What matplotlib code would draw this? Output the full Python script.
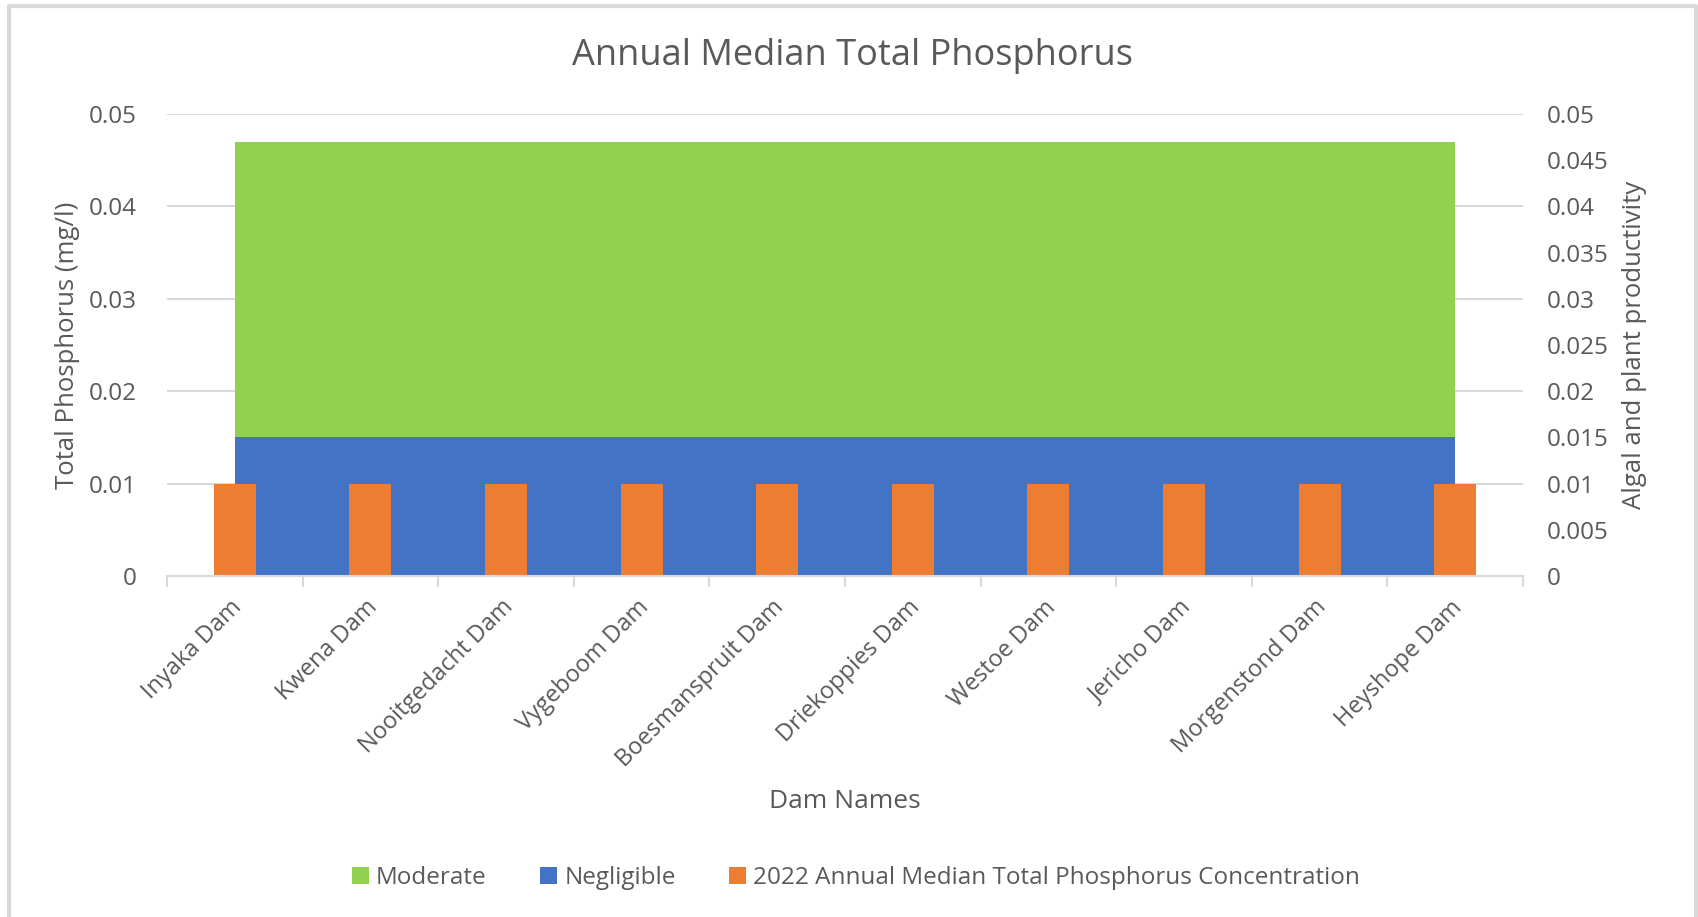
import numpy as np
import matplotlib.pyplot as plt
from matplotlib.patches import Patch
from matplotlib.lines import Line2D
from matplotlib.transforms import ScaledTranslation

# data
dams = ["Inyaka Dam", "Kwena Dam", "Nooitgedacht Dam", "Vygeboom Dam",
        "Boesmanspruit Dam", "Driekoppies Dam", "Westoe Dam", "Jericho Dam",
        "Morgenstond Dam", "Heyshope Dam"]
tp_2022 = [0.01, 0.01, 0.01, 0.01, 0.01, 0.01, 0.01, 0.01, 0.01, 0.01]
negligible = [0.015] * 10
moderate = [0.032] * 10

left_ticks = [0, 0.01, 0.02, 0.03, 0.04, 0.05]
left_labels = ["0", "0.01", "0.02", "0.03", "0.04", "0.05"]
right_ticks = [0, 0.005, 0.01, 0.015, 0.02, 0.025, 0.03, 0.035, 0.04, 0.045, 0.05]
right_labels = ["0", "0.005", "0.01", "0.015", "0.02", "0.025", "0.03",
                "0.035", "0.04", "0.045", "0.05"]

GREEN = "#92D050"
BLUE = "#4472C4"
ORANGE = "#ED7D31"
TXT = "#595959"
GRID = "#D9D9D9"

plt.rcParams['font.family'] = ['Open Sans', 'DejaVu Sans']

fig = plt.figure(figsize=(16.99, 9.17), dpi=100)
ax = fig.add_axes([0.0983, 0.3719, 0.7981, 0.5038])

x = np.arange(len(dams))
neg = np.array(negligible)
mod = np.array(moderate)

# stacked area (secondary axis series, same 0-0.05 scale)
ax.fill_between(x, 0, neg, color=BLUE, lw=0, zorder=1)
ax.fill_between(x, neg, neg + mod, color=GREEN, lw=0, zorder=1)
ax.bar(x, tp_2022, width=0.31, color=ORANGE, zorder=3)

ax.set_xlim(-0.5, len(dams) - 0.5)
ax.set_ylim(0, 0.05)
ax.set_yticks(left_ticks)
ax.set_yticklabels(left_labels)
ax.yaxis.grid(True, color=GRID, lw=1.5, zorder=0)
ax.set_axisbelow(True)
for s in ["top", "left", "right"]:
    ax.spines[s].set_visible(False)
ax.spines["bottom"].set_color(GRID)
ax.spines["bottom"].set_linewidth(1.5)
ax.spines["bottom"].set_zorder(4)

ax.set_xticks(x)
ax.set_xticklabels(dams, rotation=45, ha="right", va="top", rotation_mode="anchor")
ax.set_xticks(np.arange(-0.5, len(dams)), minor=True)
ax.tick_params(axis="x", which="major", length=0, pad=14, labelsize=17, labelcolor=TXT)
ax.tick_params(axis="x", which="minor", length=8, width=1.5, color=GRID)
ax.tick_params(axis="y", length=0, pad=22, labelsize=17.5, labelcolor=TXT)
shift = ScaledTranslation(-5 / 100, 0, fig.dpi_scale_trans)
for lab in ax.get_xticklabels():
    lab.set_transform(lab.get_transform() + shift)

ax.set_xlabel("Dam Names", fontsize=19, color=TXT, labelpad=12)
ax.set_ylabel("Total Phosphorus (mg/l)", fontsize=18.5, color=TXT, labelpad=6)

ax2 = ax.twinx()
ax2.set_ylim(0, 0.05)
ax2.set_yticks(right_ticks)
ax2.set_yticklabels(right_labels)
ax2.tick_params(axis="y", length=0, pad=17, labelsize=17.5, labelcolor=TXT)
for s in ax2.spines.values():
    s.set_visible(False)
ax2.set_ylabel("Algal and plant productivity", fontsize=18.5, color=TXT, labelpad=10)

fig.text(853 / 1699, 1 - 56 / 917, "Annual Median Total Phosphorus",
         ha="center", va="center", fontsize=26, color=TXT)

handles = [Patch(facecolor=GREEN, label="Moderate"),
           Patch(facecolor=BLUE, label="Negligible"),
           Patch(facecolor=ORANGE, label="2022 Annual Median Total Phosphorus Concentration")]
fig.legend(handles=handles, loc="center", bbox_to_anchor=(856 / 1699, 1 - 878 / 917),
           ncol=3, frameon=False, fontsize=17.5, labelcolor=TXT,
           handlelength=0.7, handleheight=0.7, handletextpad=0.3, columnspacing=2.2)

# chart border (left, top, right)
fig.add_artist(Line2D([9 / 1699, 9 / 1699, 1696 / 1699, 1696 / 1699],
                      [0, 1 - 6 / 917, 1 - 6 / 917, 0],
                      transform=fig.transFigure, color=GRID, lw=3))

plt.savefig("out.png", dpi=100)
